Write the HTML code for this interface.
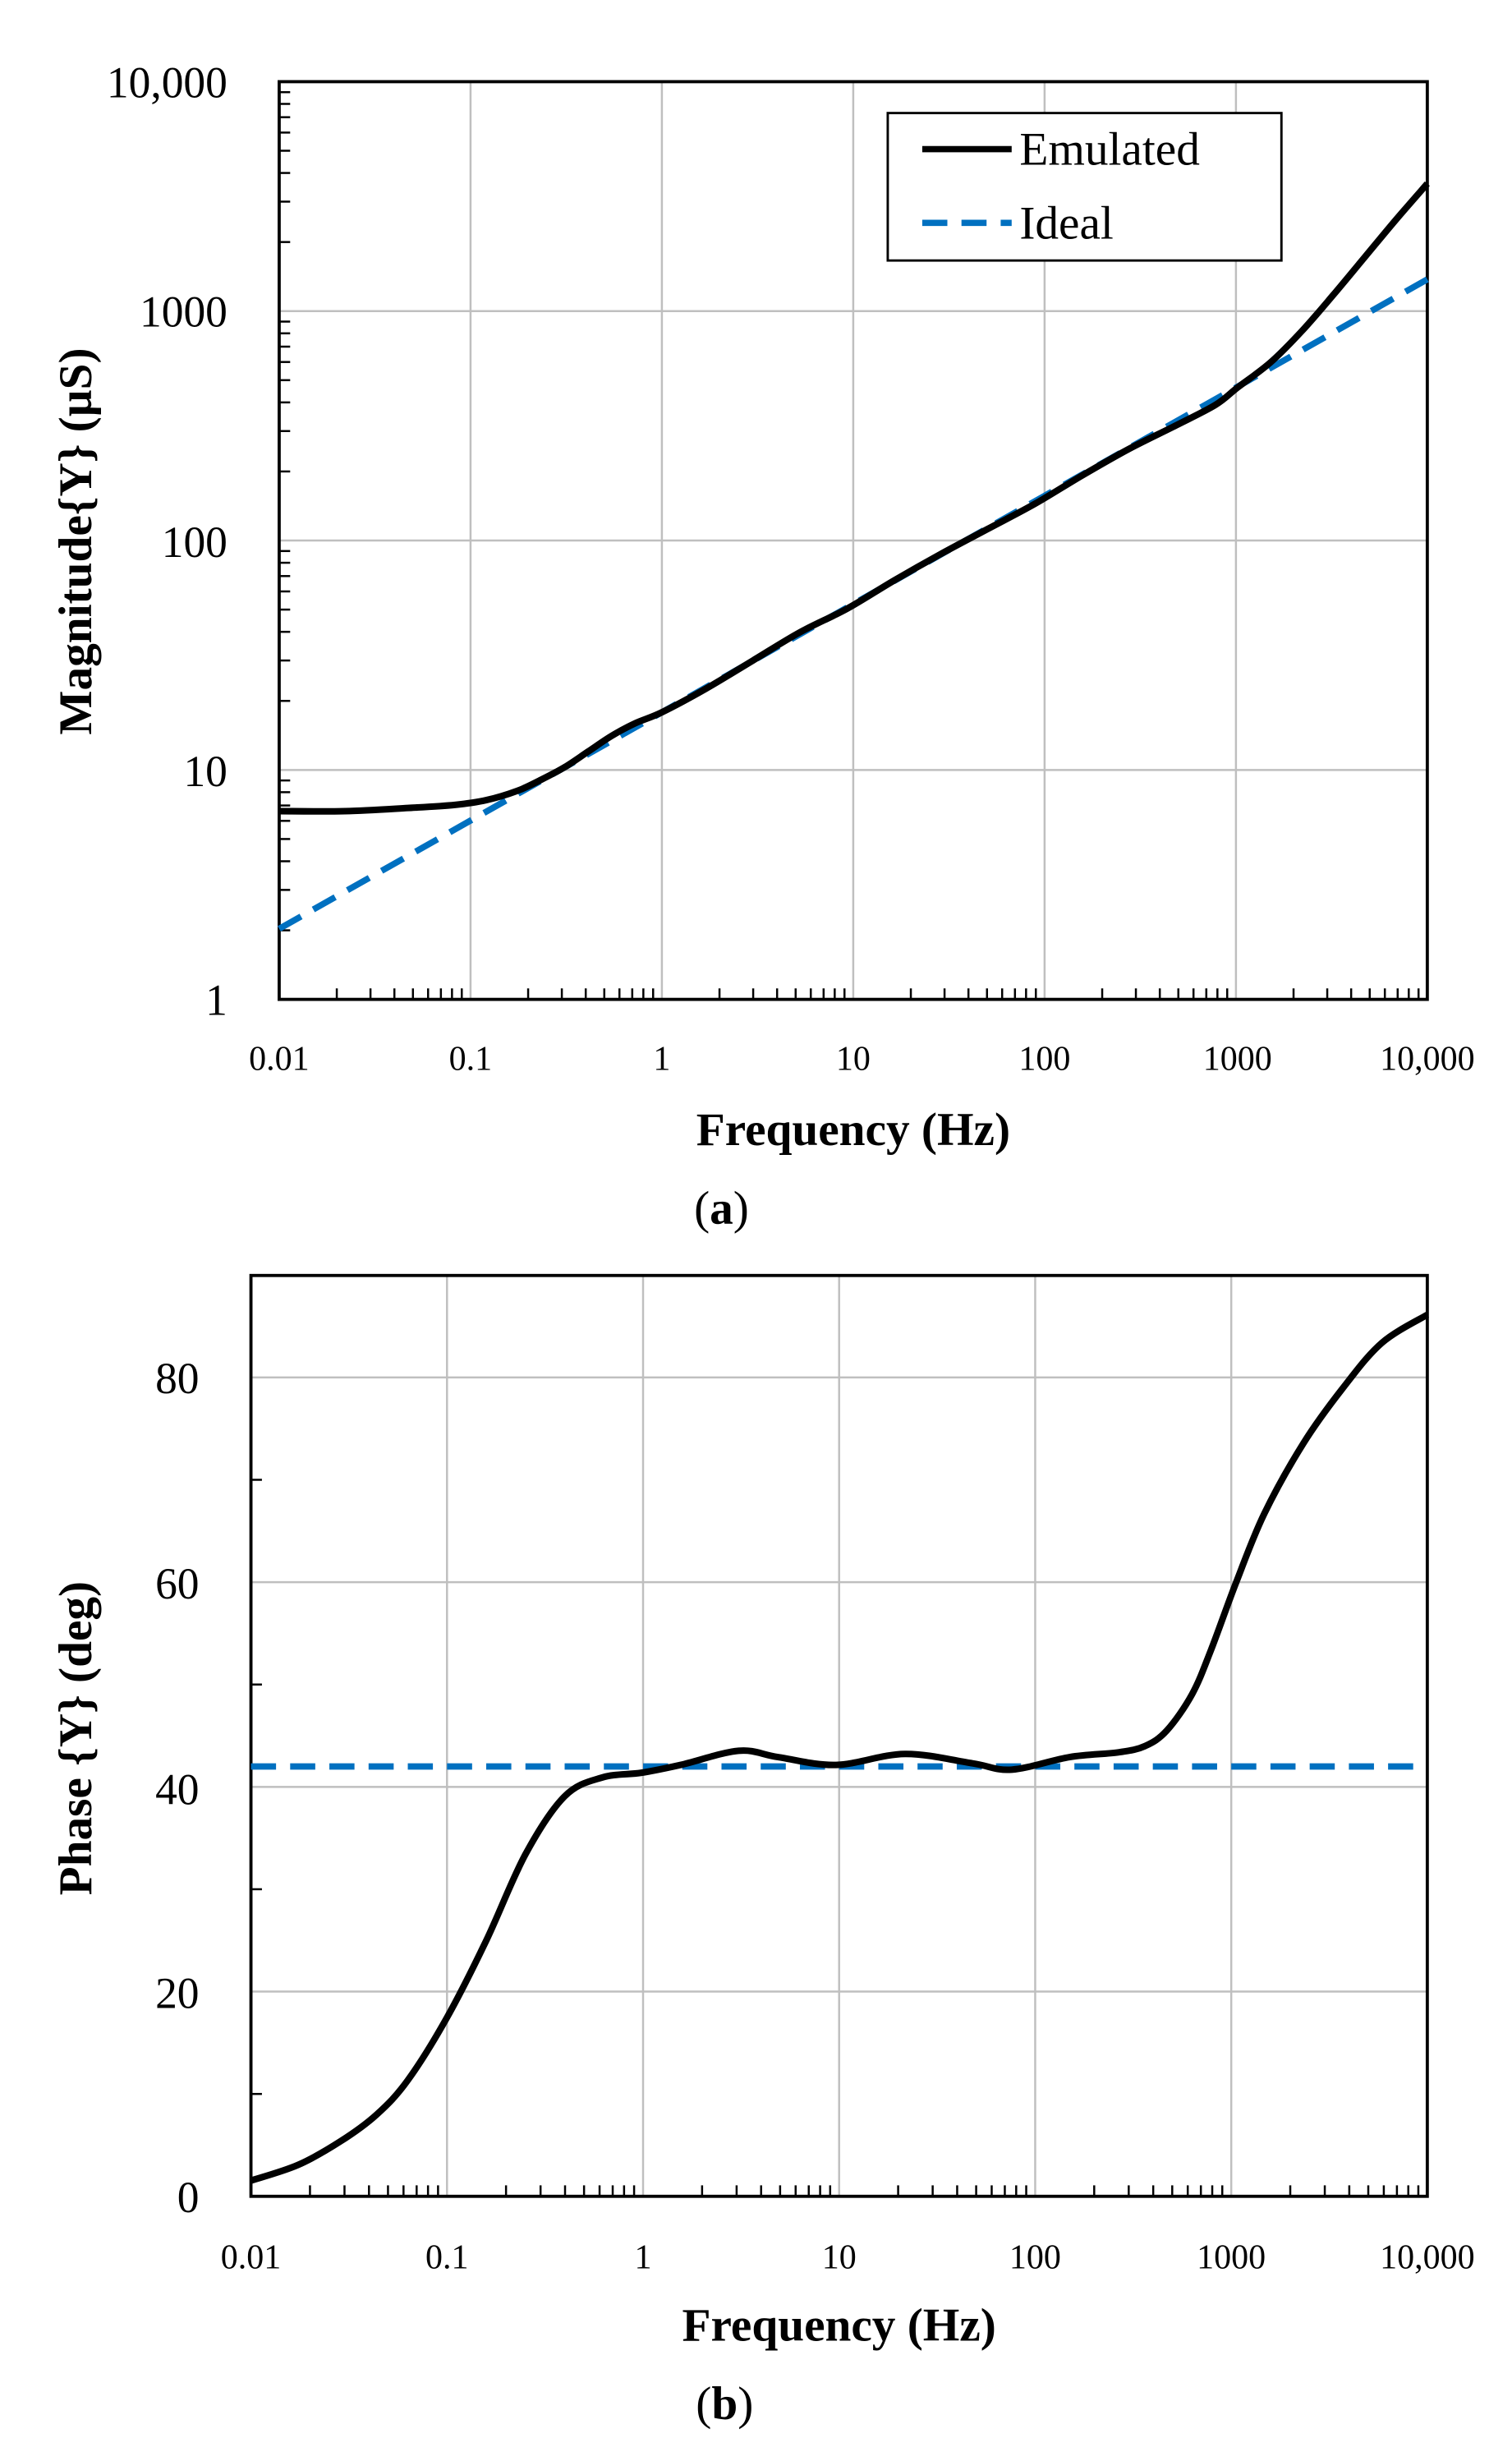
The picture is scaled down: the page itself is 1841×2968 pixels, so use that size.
<!DOCTYPE html>
<html><head><meta charset="utf-8"><style>html,body{margin:0;padding:0;background:#fff}svg{display:block}</style></head>
<body>
<svg id="s" xmlns="http://www.w3.org/2000/svg" width="1841" height="2968" viewBox="0 0 964 1554" font-family="'Liberation Serif', serif">
<rect width="964" height="1554" fill="#fff"/>
<g id="g"></g>
<!-- Plot a -->
<rect x="178" y="52" width="732" height="585" fill="none" stroke="#000" stroke-width="2"/>
<g font-size="28" text-anchor="end">
<text x="145" y="62">10,000</text><text x="145" y="208">1000</text><text x="145" y="355">100</text><text x="145" y="501">10</text><text x="145" y="647">1</text>
</g>
<g font-size="22" text-anchor="middle">
<text x="178" y="682">0.01</text><text x="300" y="682">0.1</text><text x="422" y="682">1</text><text x="544" y="682">10</text><text x="666" y="682">100</text><text x="789" y="682">1000</text><text x="910" y="682">10,000</text>
</g>
<text x="544" y="730" font-size="30" font-weight="bold" text-anchor="middle">Frequency (Hz)</text>
<text x="460" y="780" font-size="30" text-anchor="middle">(<tspan font-weight="bold">a</tspan>)</text>
<text transform="translate(58,345) rotate(-90)" font-size="30" font-weight="bold" text-anchor="middle">Magnitude{Y} (µS)</text>
<polyline fill="none" stroke="#0070c0" stroke-width="4" stroke-dasharray="16,9" points="178,592 910,178"/>
<path id="ea" fill="none" stroke="#000" stroke-width="4.2" stroke-linejoin="round"/>
<rect x="566" y="72" width="251" height="94" fill="#fff" stroke="#000" stroke-width="1.5"/>
<line x1="588" y1="95" x2="645" y2="95" stroke="#000" stroke-width="4"/>
<line x1="588" y1="142" x2="645" y2="142" stroke="#0070c0" stroke-width="4" stroke-dasharray="16,9"/>
<g font-size="30"><text x="650" y="105">Emulated</text><text x="650" y="152">Ideal</text></g>
<!-- Plot b -->
<rect x="160" y="813" width="750" height="587" fill="none" stroke="#000" stroke-width="2"/>
<g font-size="28" text-anchor="end">
<text x="127" y="888">80</text><text x="127" y="1019">60</text><text x="127" y="1150">40</text><text x="127" y="1280">20</text><text x="127" y="1410">0</text>
</g>
<g font-size="22" text-anchor="middle">
<text x="160" y="1446">0.01</text><text x="285" y="1446">0.1</text><text x="410" y="1446">1</text><text x="535" y="1446">10</text><text x="660" y="1446">100</text><text x="785" y="1446">1000</text><text x="910" y="1446">10,000</text>
</g>
<text x="535" y="1492" font-size="30" font-weight="bold" text-anchor="middle">Frequency (Hz)</text>
<text x="462" y="1542" font-size="30" text-anchor="middle">(<tspan font-weight="bold">b</tspan>)</text>
<text transform="translate(58,1108) rotate(-90)" font-size="30" font-weight="bold" text-anchor="middle">Phase {Y} (deg)</text>
<line x1="160" y1="1126" x2="910" y2="1126" stroke="#0070c0" stroke-width="4" stroke-dasharray="16,9"/>
<path id="eb" fill="none" stroke="#000" stroke-width="4.2" stroke-linejoin="round"/>
</svg>
<script>
var g=document.getElementById('g'),NS='http://www.w3.org/2000/svg';
function L(x1,y1,x2,y2,c,w){var l=document.createElementNS(NS,'line');l.setAttribute('x1',x1);l.setAttribute('y1',y1);l.setAttribute('x2',x2);l.setAttribute('y2',y2);l.setAttribute('stroke',c);l.setAttribute('stroke-width',w);g.appendChild(l);}
for(var i=1;i<6;i++){var x=178+i*122;L(x,52,x,637,'#bfbfbf',1.3);}
for(var i=1;i<4;i++){var y=52+i*146.25;L(178,y,910,y,'#bfbfbf',1.3);}
for(var d=0;d<6;d++)for(var k=2;k<10;k++){var x=178+(d+Math.log10(k))*122;L(x,637,x,630,'#000',1.3);}
for(var d=0;d<4;d++)for(var k=2;k<10;k++){var y=637-(d+Math.log10(k))*146.25;L(178,y,185,y,'#000',1.3);}
for(var i=1;i<6;i++){var x=160+i*125;L(x,813,x,1400,'#bfbfbf',1.3);}
for(var i=1;i<5;i++){var y=1400-i*130.5;L(160,y,910,y,'#bfbfbf',1.3);}
for(var d=0;d<6;d++)for(var k=2;k<10;k++){var x=160+(d+Math.log10(k))*125;L(x,1400,x,1393,'#000',1.3);}
for(var i=0;i<5;i++){var y=1400-(i*20+10)*6.525;L(160,y,167,y,'#000',1.3);}
function cr(p){var d='M'+p[0][0]+','+p[0][1];for(var i=0;i<p.length-1;i++){var p0=p[Math.max(0,i-1)],p1=p[i],p2=p[i+1],p3=p[Math.min(p.length-1,i+2)];
d+=' C'+(p1[0]+(p2[0]-p0[0])/6)+','+(p1[1]+(p2[1]-p0[1])/6)+' '+(p2[0]-(p3[0]-p1[0])/6)+','+(p2[1]-(p3[1]-p1[1])/6)+' '+p2[0]+','+p2[1];}return d;}
document.getElementById('ea').setAttribute('d',cr([[178,517],[220,517],[260,515],[290,513],[310,510],[330,504],[345,497],[360,489],[375,479],[390,469],[405,461],[422,454],[450,439],[480,421],[510,403],[540,388],[570,370],[600,353],[630,337],[660,321],[690,303],[720,286],[750,271],[775,258],[789,247],[810,231],[830,211],[850,188],[870,164],[890,140],[910,117]]));
document.getElementById('eb').setAttribute('d',cr([[160,1390],[190,1380],[217,1365],[240,1348],[260,1326],[285,1286],[310,1237],[335,1182],[360,1145],[384,1133],[409,1130],[434,1125],[471,1116],[496,1120],[533,1125],[577,1118],[620,1124],[645,1128],[682,1120],[713,1117],[730,1113],[744,1103],[760,1080],[772,1052],[788,1009],[806,965],[831,920],[856,885],[881,856],[910,838]]));
</script>
</body></html>
